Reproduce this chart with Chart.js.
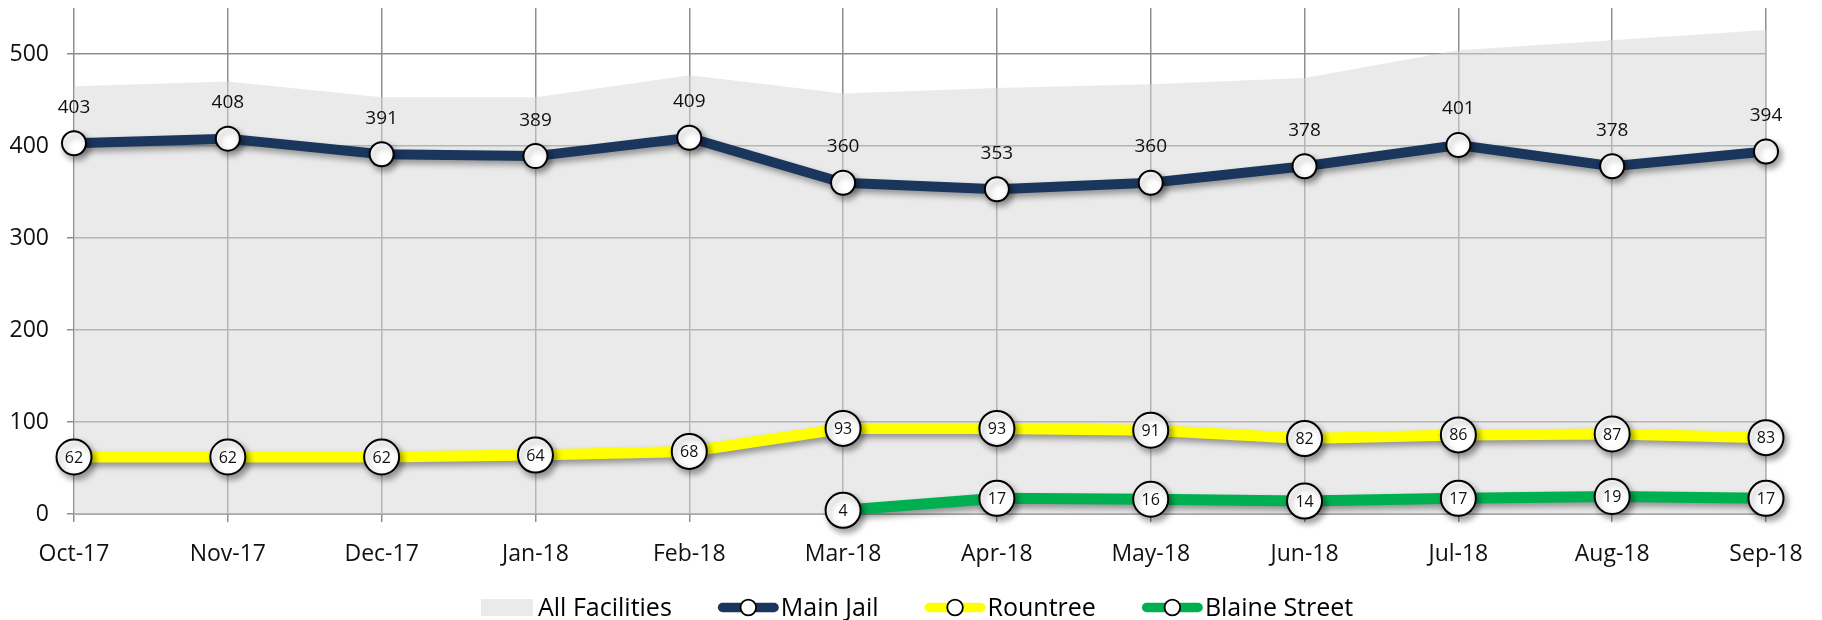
<!DOCTYPE html>
<html>
<head>
<meta charset="utf-8">
<script src="https://cdn.jsdelivr.net/npm/chart.js@4.4.1/dist/chart.umd.min.js"></script>
<style>
html,body{margin:0;padding:0;background:#fff;}
#wrap{width:1822px;height:620px;position:relative;}
</style>
</head>
<body>
<div id="wrap"><canvas id="c" width="1822" height="620"></canvas></div>
<script>
// ---- data ----
const categories = ['Oct-17','Nov-17','Dec-17','Jan-18','Feb-18','Mar-18','Apr-18','May-18','Jun-18','Jul-18','Aug-18','Sep-18'];
const allFacilities = [465, 470, 453, 453, 477, 457, 463, 467, 474, 504, 515, 526];
const mainJail = [403, 408, 391, 389, 409, 360, 353, 360, 378, 401, 378, 394];
const rountree = [62, 62, 62, 64, 68, 93, 93, 91, 82, 86, 87, 83];
const blaineStreet = [null, null, null, null, null, 4, 17, 16, 14, 17, 19, 17];
const yTickValues = [0, 100, 200, 300, 400, 500];
const seriesNames = ['All Facilities', 'Main Jail', 'Rountree', 'Blaine Street'];

// ---- colours ----
const NAVY = '#1B365D', YELLOW = '#FFFF00', GREEN = '#00B050';
const AREA = 'rgba(215,215,215,0.53)';
const AREA_LEGEND = '#EAEAEA';
const GRID = '#8f8f8f';

// ---- plugins ----
const shadowPlugin = {
  id: 'shadowPlugin',
  beforeDatasetDraw(chart, args) {
    const ctx = chart.ctx;
    ctx.save();
    const ds = chart.data.datasets[args.index];
    if (ds.shadow) {
      ctx.shadowColor = 'rgba(0,0,0,0.38)';
      ctx.shadowBlur = 6;
      ctx.shadowOffsetX = 3;
      ctx.shadowOffsetY = 4;
    }
  },
  afterDatasetDraw(chart) { chart.ctx.restore(); }
};

const labelPlugin = {
  id: 'labelPlugin',
  afterDatasetsDraw(chart) {
    const ctx = chart.ctx;
    chart.data.datasets.forEach((ds, i) => {
      if (!ds.labelMode) return;
      const meta = chart.getDatasetMeta(i);
      meta.data.forEach((pt, j) => {
        const v = ds.data[j];
        if (v === null || v === undefined) return;
        ctx.save();
        ctx.fillStyle = '#111';
        ctx.textAlign = 'center';
        ctx.textBaseline = 'middle';
        if (ds.labelMode === 'above') {
          ctx.font = '19px "Open Sans"';
          ctx.fillText(String(v), pt.x, pt.y - 36);
        } else {
          ctx.font = '16px "Open Sans"';
          ctx.fillText(String(v), pt.x, pt.y + 1);
        }
        ctx.restore();
      });
    });
  }
};

// legend drawn on the canvas, matching the original's legend keys
const legendPlugin = {
  id: 'keyLegend',
  afterDraw(chart) {
    const ctx = chart.ctx;
    const cy = 607.5;
    const gap = 46;
    let x = 481;
    ctx.save();
    ctx.font = '25px "Open Sans"';
    ctx.textBaseline = 'alphabetic';
    ctx.textAlign = 'left';
    chart.data.datasets.forEach((ds) => {
      if (ds.legendKind === 'box') {
        ctx.fillStyle = AREA_LEGEND;
        ctx.fillRect(x, cy - 8.5, 52, 17);
        x += 52 + 5;
      } else {
        ctx.strokeStyle = ds.borderColor; ctx.lineWidth = 9.5; ctx.lineCap = 'round';
        ctx.beginPath(); ctx.moveTo(x + 4.75, cy); ctx.lineTo(x + 61 - 4.75, cy); ctx.stroke();
        ctx.fillStyle = '#fff'; ctx.strokeStyle = '#000'; ctx.lineWidth = 1.8;
        ctx.beginPath(); ctx.arc(x + 30.5, cy, 7.8, 0, Math.PI * 2); ctx.fill(); ctx.stroke();
        x += 61 + 2;
      }
      const w = ctx.measureText(ds.label).width;
      ctx.fillStyle = '#000';
      ctx.fillText(ds.label, x, cy + 8);
      x += w + gap;
    });
    ctx.restore();
  }
};

// ---- chart ----
const lineCommon = {
  type: 'line',
  fill: false,
  tension: 0,
  pointBackgroundColor: '#fff',
  pointBorderColor: '#000',
  pointBorderWidth: 2,
  clip: false,
  shadow: true
};

new Chart(document.getElementById('c'), {
  type: 'line',
  data: {
    labels: categories,
    datasets: [
      {
        label: seriesNames[0],
        data: allFacilities,
        fill: 'origin',
        backgroundColor: AREA,
        borderWidth: 0,
        pointRadius: 0,
        tension: 0,
        order: 10,
        legendKind: 'box'
      },
      Object.assign({}, lineCommon, {
        label: seriesNames[1], data: mainJail,
        borderColor: NAVY, backgroundColor: NAVY, borderWidth: 10,
        pointRadius: 12, labelMode: 'above'
      }),
      Object.assign({}, lineCommon, {
        label: seriesNames[2], data: rountree,
        borderColor: YELLOW, backgroundColor: YELLOW, borderWidth: 11,
        pointRadius: 17.5, labelMode: 'inside'
      }),
      Object.assign({}, lineCommon, {
        label: seriesNames[3], data: blaineStreet,
        borderColor: GREEN, backgroundColor: GREEN, borderWidth: 11,
        pointRadius: 17.5, labelMode: 'inside'
      })
    ]
  },
  options: {
    responsive: false,
    animation: false,
    layout: { autoPadding: false, padding: { top: 8, right: 56, left: 0, bottom: 31 } },
    plugins: {
      tooltip: { enabled: false },
      legend: { display: false }
    },
    scales: {
      x: {
        offset: false,
        grid: { color: GRID, lineWidth: 1.5, tickLength: 8, drawOnChartArea: true },
        border: { display: true, color: GRID, width: 1.5 },
        ticks: { color: '#111', font: { family: '"Open Sans"', size: 23 }, padding: 19, maxRotation: 0, autoSkip: false },
        afterFit(s) { s.height = 75; s.paddingLeft = 0; s.paddingRight = 0; }
      },
      y: {
        min: 0,
        max: 550,
        grid: { color: GRID, lineWidth: 1.5, tickLength: 7 },
        border: { display: false },
        ticks: { stepSize: 100, color: '#111', font: { family: '"Open Sans"', size: 23 }, padding: 18 },
        afterBuildTicks(s) { s.ticks = yTickValues.map(v => ({ value: v })); },
        afterFit(s) { s.width = 74; s.paddingTop = 0; s.paddingBottom = 0; }
      }
    }
  },
  plugins: [shadowPlugin, labelPlugin, legendPlugin]
});
</script>
</body>
</html>
